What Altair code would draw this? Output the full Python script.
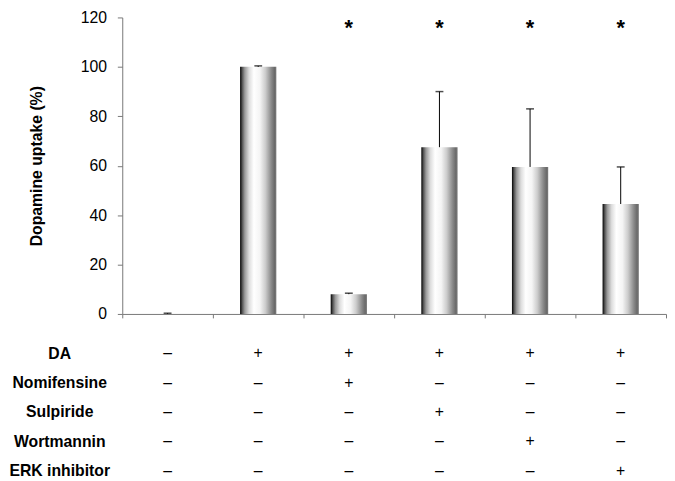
import altair as alt
import pandas as pd

# ---- data ----
conditions = ["g1", "g2", "g3", "g4", "g5", "g6"]
uptake = [0, 100, 8, 67.5, 59.5, 44.5]
sem = [0.3, 0.4, 0.4, 22.5, 23.5, 15]
significant = [False, False, True, True, True, True]
star_level = 113

treatments = ["DA", "Nomifensine", "Sulpiride", "Wortmannin", "ERK inhibitor"]
sign_da = ["–", "+", "+", "+", "+", "+"]
sign_nomi = ["–", "–", "+", "–", "–", "–"]
sign_sulp = ["–", "–", "–", "+", "–", "–"]
sign_wort = ["–", "–", "–", "–", "+", "–"]
sign_erk = ["–", "–", "–", "–", "–", "+"]
sign_rows = [sign_da, sign_nomi, sign_sulp, sign_wort, sign_erk]

FONT = "Liberation Sans"

df = pd.DataFrame({
    "cond": conditions,
    "uptake": uptake,
    "hi": [u + s for u, s in zip(uptake, sem)],
    "sig": significant,
    "star": [star_level] * len(conditions),
})

rows = []
for t, signs in zip(treatments, sign_rows):
    for c, s in zip(conditions, signs):
        rows.append({"cond": c, "treatment": t, "sign": s})
df_t = pd.DataFrame(rows)

xscale = alt.Scale(type="band", domain=conditions, paddingInner=0, paddingOuter=0)
yaxis = alt.Axis(
    values=[0, 20, 40, 60, 80, 100, 120], grid=False, tickSize=5,
    labelFontSize=16, labelPadding=11, labelColor="black", labelFont=FONT,
    domainColor="#777777", tickColor="#777777",
    title="Dopamine uptake (%)", titleFontSize=16, titleFontWeight="bold",
    titleColor="black", titleFont=FONT, titlePadding=36,
)
yscale = alt.Scale(domain=[0, 120], nice=False)

xaxis = alt.Axis(labels=False, title=None, tickBand="extent", tickSize=4,
                 domainColor="#777777", tickColor="#777777", grid=False)

X = alt.X("cond:N", sort=conditions, scale=xscale, axis=xaxis)

gradient = alt.Gradient(
    gradient="linear", x1=0, y1=0, x2=1, y2=0,
    stops=[
        alt.GradientStop(color="#000000", offset=0),
        alt.GradientStop(color="#555555", offset=0.06),
        alt.GradientStop(color="#9a9a9a", offset=0.13),
        alt.GradientStop(color="#dddddd", offset=0.25),
        alt.GradientStop(color="#ffffff", offset=0.38),
        alt.GradientStop(color="#f4f4f4", offset=0.55),
        alt.GradientStop(color="#cccccc", offset=0.70),
        alt.GradientStop(color="#8a8a8a", offset=0.86),
        alt.GradientStop(color="#6a6a6a", offset=0.95),
        alt.GradientStop(color="#7a7a7a", offset=1),
    ],
)

base = alt.Chart(df)

bars = base.mark_bar(width=alt.RelativeBandSize(0.4), color=gradient).encode(
    x=X, y=alt.Y("uptake:Q", scale=yscale, axis=yaxis)
)
err = base.mark_rule(color="black", strokeWidth=1).encode(
    x=X, y=alt.Y("uptake:Q", scale=yscale, axis=yaxis), y2="hi:Q"
)
cap = base.mark_tick(color="black", thickness=1.5, size=8).encode(
    x=X, y=alt.Y("hi:Q", scale=yscale, axis=yaxis)
)
stars = base.transform_filter("datum.sig").mark_text(
    text="*", fontSize=22, fontWeight="bold", baseline="alphabetic",
    font=FONT, color="black"
).encode(x=X, y=alt.Y("star:Q", scale=yscale, axis=yaxis))

main = alt.layer(bars, err, cap, stars).properties(width=552, height=301)

table = alt.Chart(df_t).mark_text(fontSize=16, color="black", font=FONT).encode(
    x=alt.X("cond:N", sort=conditions, scale=xscale, axis=None),
    y=alt.Y(
        "treatment:N", sort=treatments,
        scale=alt.Scale(type="point", domain=treatments, padding=0),
        axis=alt.Axis(title=None, domain=False, ticks=False, tickSize=0,
                      labelAlign="center", labelPadding=64, labelFontSize=16,
                      labelFontWeight="bold", labelColor="black", labelFont=FONT,
                      labelBaseline="middle", grid=False),
    ),
    text="sign:N",
).properties(width=552, height=119)

chart = alt.vconcat(main, table, spacing=40, bounds="flush").properties(
    padding={"top": -2, "left": 0, "right": 0, "bottom": 0}
).configure_view(stroke=None)

chart.save("out.html", embed_options={"renderer": "svg", "actions": False})
